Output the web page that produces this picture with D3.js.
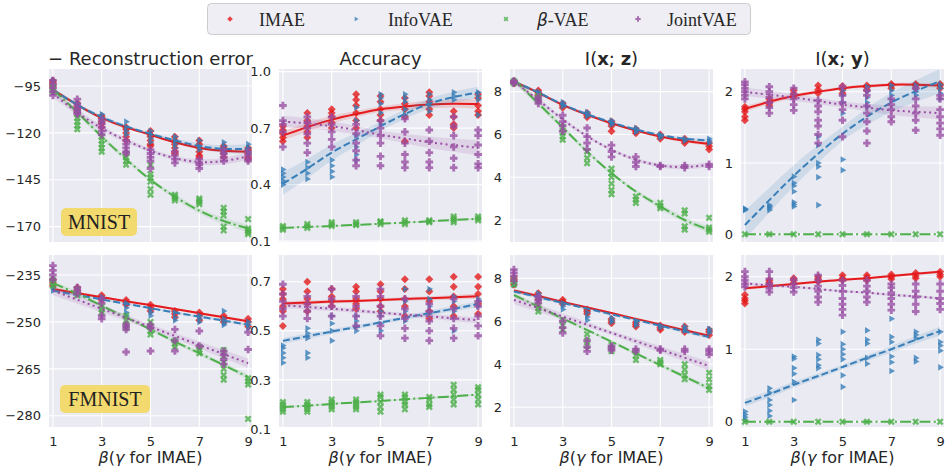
<!DOCTYPE html>
<html>
<head>
<meta charset="UTF-8">
<title>regplot grid</title>
<script src="https://cdn.jsdelivr.net/npm/d3@7"></script>
<style>
body{margin:0;background:#fff;}
</style>
</head>
<body>
<script>
var betas=[1,2,3,4,5,6,7,8,9];
var methods=["IMAE","InfoVAE","β-VAE","JointVAE"];
var colors=["#e41a1c","#377eb8","#4daf4a","#984ea3"];
var xTicks=[1,3,5,7,9];

// ---- MNIST, - reconstruction error ----
var mnRecPts=[
 [[-92,-93,-94,-95,-96],[-104,-106,-107,-108,-109],[-111,-112,-114,-115,-117],[-117,-118,-120,-122,-124],[-119,-121,-122,-124,-126,-127],[-122,-124,-126,-128,-130,-131],[-124,-126,-128,-130,-132,-133],[-127,-128,-129,-131,-133],[-128,-129,-131,-133,-134]],
 [[-92,-94,-95],[-104,-106,-108],[-110,-112,-114],[-114,-117,-119,-121],[-119,-121,-123,-125],[-122,-124,-126,-128],[-124,-127,-129],[-125,-127,-129,-131],[-126,-128,-130,-131]],
 [[-95,-96,-97,-98],[-110,-112,-114,-116,-118],[-122,-124,-126,-128,-130],[-131,-133,-135,-137],[-137,-142,-144,-146,-150,-153],[-153,-154,-155,-156],[-155,-156,-157,-158],[-160,-162,-164,-170,-172],[-166,-171,-172,-173,-174]],
 [[-92,-94,-96,-98,-100],[-102,-105,-107,-109,-110],[-113,-115,-117,-119,-121],[-124,-126,-128,-130,-131],[-129,-131,-133,-135,-139],[-130,-132,-134,-136],[-134,-136,-137,-139],[-129,-131,-133,-135],[-130,-132,-134,-135]]
];
var mnRecFit=[
 [-97,-105,-112,-117,-121,-125,-128,-129.5,-130],
 [-97,-105,-111.5,-116.5,-120.5,-124,-127,-128.5,-128.5],
 [-97,-109,-122,-134,-145,-154,-161.5,-167,-171],
 [-99,-109,-117.5,-124,-129.5,-133.5,-135.5,-135,-132.5]
];
var mnRecBand=[[1,0.6,1],[1,0.6,2.5],[1.5,1,2],[2,1,2]];

// ---- MNIST, accuracy ----
var mnAccPts=[
 [[0.63,0.65,0.67,0.69,0.71],[0.65,0.68,0.71,0.74,0.78],[0.70,0.73,0.76,0.78,0.80],[0.70,0.74,0.78,0.82,0.85,0.88],[0.74,0.77,0.80,0.84,0.87],[0.63,0.76,0.80,0.83,0.86],[0.77,0.80,0.84,0.87,0.89],[0.70,0.72,0.76,0.79],[0.77,0.79,0.82,0.86,0.88]],
 [[0.40,0.42,0.44,0.46,0.48],[0.43,0.46,0.49,0.52],[0.44,0.47,0.50,0.53],[0.53,0.56,0.60,0.66,0.74,0.81],[0.72,0.78,0.83,0.86,0.88],[0.77,0.80,0.84,0.86,0.88],[0.79,0.82,0.85,0.88],[0.85,0.87,0.89],[0.77,0.85,0.87,0.89]],
 [[0.16,0.17,0.18],[0.17,0.18,0.19],[0.18,0.19,0.20],[0.185,0.19,0.20],[0.19,0.20,0.205],[0.19,0.20,0.21],[0.20,0.205,0.21],[0.20,0.21,0.22,0.23],[0.21,0.22,0.23]],
 [[0.60,0.68,0.72,0.74,0.82],[0.57,0.62,0.67,0.70,0.73,0.76],[0.60,0.64,0.68,0.72,0.76],[0.50,0.53,0.58,0.62,0.67,0.72],[0.50,0.55,0.62,0.66,0.70,0.74],[0.49,0.52,0.56,0.62,0.68,0.75],[0.49,0.52,0.57,0.63,0.69],[0.49,0.54,0.60,0.66,0.71,0.76],[0.49,0.51,0.56,0.61,0.66,0.69]]
];
var mnAccFit=[
 [0.66,0.705,0.745,0.775,0.80,0.815,0.825,0.83,0.828],
 [0.405,0.485,0.57,0.64,0.71,0.775,0.83,0.865,0.89],
 [0.17,0.175,0.18,0.186,0.192,0.198,0.205,0.212,0.218],
 [0.735,0.725,0.71,0.69,0.665,0.645,0.625,0.61,0.595]
];
var mnAccBand=[[0.025,0.015,0.025],[0.06,0.025,0.03],[0.005,0.003,0.006],[0.03,0.02,0.04]];

// ---- MNIST, I(x;z) ----
var mnIxzPts=[
 [[8.38,8.45,8.5],[7.85,7.95,8.05],[7.25,7.35,7.45],[6.8,6.9,7.0],[6.15,6.4,6.5,6.6],[6.05,6.15,6.25],[5.8,5.9,6.0],[5.6,5.7,5.8],[5.3,5.45,5.6]],
 [[8.4,8.5],[7.9,8.0],[7.3,7.4,7.5],[6.85,6.95,7.05],[6.45,6.55,6.65],[6.1,6.2,6.3],[5.85,5.95,6.0],[5.7,5.8],[5.6,5.7,5.8]],
 [[8.4,8.5],[7.6,7.7,7.8],[5.75,5.9,6.1,6.35],[4.65,4.9,5.2],[3.2,3.4,3.7,4.0,4.2,4.4],[2.8,2.95,3.1],[2.55,2.65,2.8],[1.55,1.7,2.3,2.45],[1.45,1.55,1.65,2.1]],
 [[8.4,8.45,8.5],[7.45,7.6,7.75],[6.15,6.4,6.6,6.9],[5.3,5.6,5.9,6.3],[4.95,5.2,5.5],[4.5,4.7,4.95],[4.5,4.55],[4.45,4.55],[4.5,4.6]]
];
var mnIxzFit=[
 [8.47,7.95,7.38,6.92,6.52,6.18,5.9,5.7,5.55],
 [8.47,7.96,7.4,6.95,6.56,6.23,5.97,5.8,5.72],
 [8.58,7.45,6.33,5.2,4.19,3.33,2.63,2.0,1.54],
 [8.47,7.61,6.7,5.92,5.28,4.82,4.55,4.48,4.58]
];
var mnIxzBand=[[0.08,0.05,0.08],[0.08,0.05,0.08],[0.15,0.08,0.15],[0.12,0.07,0.12]];

// ---- MNIST, I(x;y) ----
var mnIxyPts=[
 [[1.6,1.65,1.72,1.76,1.79],[1.81,1.85,1.9],[1.93,1.97,2.02],[1.98,2.03,2.09],[1.98,2.03,2.08],[2.02,2.06,2.09],[2.05,2.09,2.11],[2.05,2.09,2.11],[2.05,2.09,2.11]],
 [[0.34,0.35,0.36],[0.34,0.37,0.39,0.41],[0.39,0.42,0.45,0.6,0.68,0.72,0.81],[0.41,0.8,0.95,1.0,1.25,1.37],[0.9,1.05,1.7,1.85,1.95,2.02],[1.79,1.85,1.92,2.0,2.07],[1.88,1.95,2.02,2.09],[1.95,2.0,2.05,2.09],[1.9,1.98,2.05,2.1]],
 [[0],[0],[0],[0],[0],[0],[0],[0],[0]],
 [[1.9,1.95,2.0,2.05,2.1,2.14],[1.7,1.78,1.85,1.92,2.0,2.07],[1.74,1.82,1.9,1.97,2.05],[1.28,1.4,1.52,1.6,1.72,1.8,1.88],[1.37,1.6,1.75,1.85,1.95,2.07],[1.28,1.45,1.58,1.7,1.8,1.95,2.02],[1.58,1.65,1.75,1.82,1.9],[1.46,1.6,1.7,1.8,1.9,2.05],[1.39,1.48,1.56,1.65,1.75,1.9,1.95]]
];
var mnIxyFit=[
 [1.76,1.86,1.94,2.0,2.05,2.08,2.1,2.1,2.09],
 [0.13,0.48,0.82,1.13,1.41,1.65,1.85,2.01,2.15],
 [0,0,0,0,0,0,0,0,0],
 [2.0,1.96,1.92,1.87,1.82,1.78,1.74,1.72,1.7]
];
var mnIxyBand=[[0.04,0.02,0.03],[0.2,0.1,0.17],[0,0,0],[0.06,0.04,0.09]];

// ---- FMNIST, - reconstruction error ----
var fmRecPts=[
 [[-236.5,-237.5,-238.5],[-239,-239.8,-240.5],[-241.5,-242.3,-243],[-243,-243.8,-244.5],[-244.5,-245.5,-246.5],[-246.5,-247.5,-248.5],[-247,-248,-249.5],[-248,-249,-250],[-249,-250,-251.5]],
 [[-238,-239,-240],[-240,-241],[-242,-243],[-244,-245.5,-247,-248],[-246,-247,-248],[-247,-248.5,-249.5],[-248,-249,-250],[-246.5,-249,-250.5,-251],[-250,-251,-252]],
 [[-236.5,-237.5,-238.5],[-239.5,-240.5,-241.5],[-245,-246,-247],[-248,-249.5,-251,-252],[-250,-251.5,-253,-254],[-256,-257,-258],[-258,-259,-260],[-259,-261,-263,-265,-267,-268.5],[-268,-269,-270,-281]],
 [[-232,-233.5,-235,-236.5],[-239,-240,-241],[-242.5,-244,-248,-249],[-250.8,-251.5,-252.4,-259.6],[-251,-252,-259.3],[-252.4,-256,-259.3],[-252.9,-257.7],[-259.3,-260.5,-262,-263.5],[-253.3,-258.8]]
];
var fmRecFit=[
 [-239.5,-240.8,-242.1,-243.4,-244.6,-245.9,-247.2,-248.5,-249.8],
 [-240,-241.4,-242.8,-244.2,-245.6,-247,-248.3,-249.6,-250.9],
 [-237.6,-241,-244.8,-248.6,-252.4,-256.3,-260,-263.8,-267.6],
 [-240,-242.9,-245.8,-248.7,-251.6,-254.5,-257.4,-260.3,-263.2]
];
var fmRecBand=[[0.5,0.3,0.5],[0.5,0.3,0.5],[0.8,0.5,0.8],[1.5,0.8,1.5]];

// ---- FMNIST, accuracy ----
var fmAccPts=[
 [[0.52,0.58,0.6,0.63,0.65,0.67],[0.58,0.61,0.63,0.66,0.7],[0.6,0.62,0.64,0.67],[0.59,0.61,0.63,0.66,0.68],[0.58,0.6,0.63,0.66,0.69],[0.56,0.6,0.63,0.67,0.71],[0.55,0.58,0.62,0.66,0.71],[0.56,0.6,0.64,0.68,0.72],[0.57,0.61,0.65,0.68,0.72]],
 [[0.37,0.39,0.41,0.43,0.44],[0.39,0.41,0.47,0.49,0.51],[0.46,0.5,0.53,0.56],[0.5,0.52,0.54,0.56],[0.5,0.53,0.56,0.58],[0.54,0.58,0.62,0.67],[0.57,0.6,0.63,0.67],[0.5,0.58,0.62,0.64],[0.6,0.62,0.63]],
 [[0.17,0.18,0.19,0.2,0.21],[0.17,0.18,0.19,0.2,0.21],[0.18,0.19,0.2,0.21,0.22],[0.18,0.19,0.2,0.21,0.22],[0.17,0.19,0.21,0.23,0.24],[0.18,0.2,0.21,0.23,0.24],[0.19,0.2,0.22,0.23],[0.2,0.22,0.24,0.26,0.28],[0.2,0.22,0.24,0.26,0.27]],
 [[0.56,0.59,0.62,0.65,0.69],[0.55,0.58,0.61,0.64],[0.56,0.6,0.63,0.67],[0.52,0.56,0.6,0.64],[0.48,0.52,0.56,0.6,0.64,0.67],[0.47,0.51,0.55,0.59,0.63],[0.46,0.5,0.54,0.58,0.61],[0.47,0.51,0.55,0.59,0.63],[0.48,0.52,0.56,0.6,0.62]]
];
var fmAccFit=[
 [0.611,0.615,0.619,0.622,0.626,0.63,0.633,0.637,0.641],
 [0.459,0.478,0.497,0.515,0.534,0.553,0.572,0.59,0.609],
 [0.189,0.195,0.202,0.208,0.214,0.221,0.227,0.233,0.24],
 [0.605,0.597,0.59,0.582,0.574,0.566,0.559,0.551,0.543]
];
var fmAccBand=[[0.01,0.006,0.01],[0.012,0.007,0.012],[0.005,0.003,0.005],[0.012,0.007,0.012]];

// ---- FMNIST, I(x;z) ----
var fmIxzPts=[
 [[7.7,7.85,8.0],[7.0,7.15,7.3],[6.8,6.9,7.0],[6.35,6.45,6.55],[5.9,6.0,6.1],[5.75,5.85,5.95],[5.6,5.7,5.8],[5.5,5.6,5.75],[5.35,5.5,5.6]],
 [[7.7,7.8],[7.0,7.2,7.3],[6.55,6.7,6.85],[6.05,6.2,6.4],[5.95,6.05,6.15],[5.8,5.9,6.0],[5.7,5.8],[5.55,5.65,5.75],[5.45,5.55,5.65]],
 [[7.7,7.85,8.0],[6.45,6.6,6.75],[5.6,5.8,6.05],[4.85,5.1,5.4],[4.6,4.75,4.9],[4.2,4.4,4.6],[4.0,4.1,4.2],[3.3,3.5,3.75,4.0],[2.8,3.0,3.3,3.6]],
 [[7.9,8.1,8.25,8.4],[6.85,7.0,7.15],[5.45,5.7,6.0],[4.6,4.8,5.1],[4.65,4.75,4.85],[4.6,4.7],[4.65,4.7],[4.6,4.7],[4.45,4.6,4.7]]
];
var fmIxzFit=[
 [7.43,7.17,6.9,6.64,6.38,6.11,5.85,5.58,5.32],
 [7.38,7.12,6.85,6.59,6.32,6.06,5.79,5.53,5.26],
 [7.22,6.68,6.13,5.59,5.05,4.5,3.96,3.42,2.88],
 [6.99,6.61,6.22,5.84,5.46,5.07,4.69,4.3,3.92]
];
var fmIxzBand=[[0.08,0.05,0.08],[0.08,0.05,0.08],[0.1,0.06,0.1],[0.2,0.1,0.2]];

// ---- FMNIST, I(x;y) ----
var fmIxyPts=[
 [[1.63,1.67,1.7,1.75],[1.89,1.92,1.95],[1.91,1.95,1.98],[1.93,1.97,2.0],[1.95,1.98,2.02],[1.95,1.99,2.02],[1.97,2.0,2.03],[1.98,2.01,2.05],[2.0,2.03,2.07]],
 [[0.02,0.06,0.1,0.14],[0.08,0.15,0.23,0.3,0.4,0.46],[0.3,0.55,0.66,0.74,0.87,0.9],[0.74,0.78,0.86,0.92,1.08,1.13],[0.48,0.64,0.86,0.93,1.0,1.07,1.24],[0.8,0.88,1.08,1.13,1.26],[0.7,0.82,0.9,1.1,1.17,1.42],[0.83,0.88,1.15,1.2,1.24],[0.75,0.98,1.05,1.1,1.24]],
 [[0],[0],[0],[0],[0],[0],[0],[0],[0]],
 [[1.86,1.9,1.95,2.0,2.07],[1.79,1.84,1.9,1.97,2.07],[1.79,1.85,1.9,1.96],[1.65,1.72,1.8,1.87,1.95,2.02],[1.47,1.55,1.62,1.7,1.8,1.88,1.95],[1.65,1.72,1.8,1.87,1.95],[1.54,1.62,1.7,1.78,1.85,1.9],[1.52,1.62,1.72,1.8,1.9],[1.55,1.63,1.7,1.8,1.9]]
];
var fmIxyFit=[
 [1.84,1.87,1.9,1.93,1.96,1.98,2.01,2.04,2.07],
 [0.26,0.38,0.51,0.63,0.755,0.88,1.0,1.13,1.25],
 [0,0,0,0,0,0,0,0,0],
 [1.91,1.88,1.86,1.83,1.8,1.78,1.75,1.73,1.7]
];
var fmIxyBand=[[0.02,0.015,0.02],[0.05,0.03,0.06],[0,0,0],[0.02,0.015,0.02]];

// layout
var W=945,H=469;
var colLeft=[49,279,510,741],pw=203;
var rowTop=[69,255],rowH=[173,172];
var xDom=[0.84,9.16];
var dashes=[null,"7,3.2","11,3.2,2,3.2","2,3.3"];

var panels=[
 {r:0,c:0,dom:[-178.2,-85.9],ticks:[-95,-120,-145,-170],fmt:"d",pts:mnRecPts,fit:mnRecFit,band:mnRecBand},
 {r:0,c:1,dom:[0.095,1.014],ticks:[0.1,0.4,0.7,1.0],fmt:".1f",pts:mnAccPts,fit:mnAccFit,band:mnAccBand},
 {r:0,c:2,dom:[0.97,9.06],ticks:[2,4,6,8],fmt:"d",pts:mnIxzPts,fit:mnIxzFit,band:mnIxzBand},
 {r:0,c:3,dom:[-0.108,2.32],ticks:[0,1,2],fmt:"d",pts:mnIxyPts,fit:mnIxyFit,band:mnIxyBand},
 {r:1,c:0,dom:[-283.6,-228.6],ticks:[-235,-250,-265,-280],fmt:"d",pts:fmRecPts,fit:fmRecFit,band:fmRecBand},
 {r:1,c:1,dom:[0.108,0.809],ticks:[0.1,0.3,0.5,0.7],fmt:".1f",pts:fmAccPts,fit:fmAccFit,band:fmAccBand},
 {r:1,c:2,dom:[1.08,9.08],ticks:[2,4,6,8],fmt:"d",pts:fmIxzPts,fit:fmIxzFit,band:fmIxzBand},
 {r:1,c:3,dom:[-0.073,2.3],ticks:[0,1,2],fmt:"d",pts:fmIxyPts,fit:fmIxyFit,band:fmIxyBand}
];

// marker shapes (matplotlib D, >, X, P)
function plusPts(a,b){return [[-a,-b],[a,-b],[a,-a],[b,-a],[b,a],[a,a],[a,b],[-a,b],[-a,a],[-b,a],[-b,-a],[-a,-a]];}
function pathOf(p){return "M"+p.map(function(q){return q[0].toFixed(2)+","+q[1].toFixed(2);}).join("L")+"Z";}
var shapes=[
 function(r){return pathOf([[0,-r],[r,0],[0,r],[-r,0]]);},
 function(r){var h=r*0.87;return pathOf([[r,0],[-r/2,-h],[-r/2,h]]);},
 function(r){return pathOf(plusPts(r*0.42,r*1.3).map(function(q){return [(q[0]-q[1])/Math.SQRT2,(q[0]+q[1])/Math.SQRT2];}));},
 function(r){return pathOf(plusPts(r*0.38,r));}
];
var mSize=[4,3.8,2.9,3.8];

var svg=d3.select("body").append("svg").attr("width",W).attr("height",H)
  .attr("font-family","DejaVu Sans").attr("fill","#262626");

panels.forEach(function(p,pi){
  var x0=colLeft[p.c],y0=rowTop[p.r],h=rowH[p.r];
  var x=d3.scaleLinear().domain(xDom).range([x0,x0+pw]);
  var y=d3.scaleLinear().domain(p.dom).range([y0+h,y0]);
  var g=svg.append("g");
  g.append("rect").attr("x",x0).attr("y",y0).attr("width",pw).attr("height",h).attr("fill","#eaeaf2");
  g.append("clipPath").attr("id","clip"+pi).append("rect").attr("x",x0).attr("y",y0).attr("width",pw).attr("height",h);
  // grid
  g.selectAll(".vg").data(xTicks).enter().append("line")
   .attr("x1",function(d){return x(d);}).attr("x2",function(d){return x(d);})
   .attr("y1",y0).attr("y2",y0+h).attr("stroke","#fff").attr("stroke-width",1.1);
  g.selectAll(".hg").data(p.ticks).enter().append("line")
   .attr("y1",function(d){return y(d);}).attr("y2",function(d){return y(d);})
   .attr("x1",x0).attr("x2",x0+pw).attr("stroke","#fff").attr("stroke-width",1.1);
  // y axis labels
  var ya=g.append("g").attr("transform","translate("+x0+",0)")
   .call(d3.axisLeft(y).tickValues(p.ticks).tickSize(0).tickPadding(8).tickFormat(d3.format(p.fmt)));
  ya.select(".domain").remove();
  ya.selectAll("text").attr("font-size",13).attr("font-family","DejaVu Sans").attr("fill","#262626");
  if(p.r==1){
    var xa=g.append("g").attr("transform","translate(0,"+(y0+h)+")")
     .call(d3.axisBottom(x).tickValues(xTicks).tickSize(0).tickPadding(9.5).tickFormat(d3.format("d")));
    xa.select(".domain").remove();
    xa.selectAll("text").attr("font-size",13).attr("font-family","DejaVu Sans").attr("fill","#262626");
    var xl=g.append("text").attr("x",x0+pw/2).attr("y",463).attr("text-anchor","middle").attr("font-size",16);
    xl.append("tspan").attr("font-style","italic").text("β");
    xl.append("tspan").text("(");
    xl.append("tspan").attr("font-style","italic").text("γ");
    xl.append("tspan").text(" for IMAE)");
  }
  var data=g.append("g").attr("clip-path","url(#clip"+pi+")");
  methods.forEach(function(m,mi){
    var pts=[];
    p.pts[mi].forEach(function(vals,bi){vals.forEach(function(v){pts.push([betas[bi],v]);});});
    data.append("g").selectAll("path").data(pts).enter().append("path")
     .attr("d",shapes[mi](mSize[mi]))
     .attr("transform",function(d){return "translate("+x(d[0])+","+y(d[1])+")";})
     .attr("fill",colors[mi]).attr("fill-opacity",0.8);
    var bw=d3.scaleLinear().domain([1,5,9]).range(p.band[mi]);
    var fit=betas.map(function(b,i){return [b,p.fit[mi][i]];});
    data.append("path").datum(fit)
     .attr("d",d3.area().curve(d3.curveNatural)
       .x(function(d){return x(d[0]);})
       .y0(function(d){return y(d[1]-bw(d[0]));})
       .y1(function(d){return y(d[1]+bw(d[0]));}))
     .attr("fill",colors[mi]).attr("fill-opacity",0.15);
    data.append("path").datum(fit)
     .attr("d",d3.line().curve(d3.curveNatural).x(function(d){return x(d[0]);}).y(function(d){return y(d[1]);}))
     .attr("fill","none").attr("stroke",colors[mi]).attr("stroke-width",2)
     .attr("stroke-dasharray",dashes[mi]);
  });
});

// titles
var tY=64.5;
function cx(c){return colLeft[c]+pw/2;}
svg.append("text").attr("x",cx(0)).attr("y",tY).attr("text-anchor","middle").attr("font-size",18).text("− Reconstruction error");
svg.append("text").attr("x",cx(1)).attr("y",tY).attr("text-anchor","middle").attr("font-size",18).text("Accuracy");
[["z",2],["y",3]].forEach(function(t){
  var tt=svg.append("text").attr("x",cx(t[1])).attr("y",tY).attr("text-anchor","middle").attr("font-size",18);
  tt.append("tspan").text("I(");
  tt.append("tspan").attr("font-weight","bold").text("x");
  tt.append("tspan").text("; ");
  tt.append("tspan").attr("font-weight","bold").text(t[0]);
  tt.append("tspan").text(")");
});

// dataset tags
var tags=[["MNIST",61,208,76,28],["FMNIST",60,385,90,28]];
tags.forEach(function(t){
  svg.append("rect").attr("x",t[1]).attr("y",t[2]).attr("width",t[3]).attr("height",t[4]).attr("rx",5)
   .attr("fill","#f3da6e");
  svg.append("text").attr("x",t[1]+t[3]/2).attr("y",t[2]+21).attr("text-anchor","middle")
   .attr("font-family","Liberation Serif").attr("font-size",20).attr("fill","#222").text(t[0]);
});

// legend
var lg=svg.append("g");
lg.append("rect").attr("x",207.5).attr("y",3.5).attr("width",543).attr("height",31).attr("rx",4)
  .attr("fill","#eeeef4").attr("stroke","#cccccc").attr("stroke-width",1);
var legMX=[230,356,506,638],legTX=[259,388,537,667];
methods.forEach(function(m,mi){
  lg.append("path").attr("d",shapes[mi](mSize[mi]*0.7)).attr("transform","translate("+legMX[mi]+",19)")
    .attr("fill",colors[mi]).attr("fill-opacity",0.8);
  var t=lg.append("text").attr("x",legTX[mi]).attr("y",25.5).attr("font-family","Liberation Serif").attr("font-size",18).attr("fill","#262626");
  if(m=="β-VAE"){
    t.append("tspan").attr("font-family","DejaVu Sans").attr("font-style","italic").attr("font-size",17).text("β");
    t.append("tspan").text("-VAE");
  } else t.text(m);
});
</script>
</body>
</html>
